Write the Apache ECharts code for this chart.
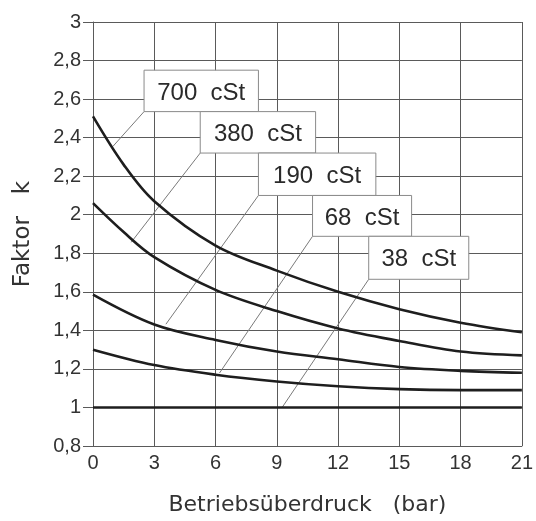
<!DOCTYPE html>
<html>
<head>
<meta charset="utf-8">
<script src="https://cdn.jsdelivr.net/npm/echarts@6/dist/echarts.min.js"></script>
<style>
html,body{margin:0;padding:0;background:#fff;}
#chart{width:536px;height:521px;}
</style>
</head>
<body>
<div id="chart"></div>
<script>
// Data
const xTicksMin = 0, xTicksMax = 21, xStep = 3;
const yMin = 0.8, yMax = 3, yStep = 0.2;

const curve700 = [[0,2.51],[1.5,2.26],[3,2.07],[6,1.84],[9,1.71],[12,1.60],[15,1.51],[18,1.44],[21,1.39]];
const curve380 = [[0,2.06],[1.5,1.91],[3,1.78],[6,1.61],[9,1.50],[12,1.41],[15,1.345],[18,1.29],[21,1.27]];
const curve190 = [[0,1.585],[3,1.43],[6,1.35],[9,1.29],[12,1.25],[15,1.21],[18,1.19],[21,1.18]];
const curve68  = [[0,1.30],[3,1.22],[6,1.17],[9,1.135],[12,1.11],[15,1.095],[18,1.09],[21,1.09]];
const curve38  = [[0,1.0],[21,1.0]];

// Label boxes (data coordinates) and leader-line targets on the curves
const labelNames = ['700 cSt','380 cSt','190 cSt','68 cSt','38 cSt'];
const boxLeft   = [2.5, 5.25, 8.1, 10.75, 13.5];
const boxRight  = [8.1, 10.9, 13.85, 15.6, 18.4];
const boxTop    = [2.75, 2.535, 2.32, 2.10, 1.888];
const boxBottom = [2.535, 2.32, 2.10, 1.888, 1.665];
const leaderX   = [0.97, 1.87, 3.57, 6.19, 9.26];
const leaderY   = [2.354, 1.857, 1.432, 1.178, 1.0];

const labelData = labelNames.map((n,i)=>[boxLeft[i], boxTop[i], boxRight[i], boxBottom[i], leaderX[i], leaderY[i], n]);

const chart = echarts.init(document.getElementById('chart'), null, {renderer:'canvas'});
const gridColor = '#5a5a5a';
const curveStyle = {color:'#1e1e1e', width:2.6};

function curveSeries(name, data){
  return {name, type:'line', data, smooth:0.35, symbol:'none', lineStyle:curveStyle, z:5, animation:false};
}

chart.setOption({
  backgroundColor:'#ffffff',
  animation:false,
  grid:{left:93, right:9, top:22, bottom:74, containLabel:false},
  xAxis:{
    type:'value', min:xTicksMin, max:xTicksMax, interval:xStep,
    name:'Betriebsüberdruck   (bar)', nameLocation:'middle', nameGap:48,
    nameTextStyle:{fontFamily:'DejaVu Sans', fontSize:22, color:'#333'},
    axisLine:{show:true, lineStyle:{color:gridColor, width:1}},
    axisTick:{show:false},
    axisLabel:{fontFamily:'Liberation Sans', fontSize:20, color:'#333', margin:7},
    splitLine:{show:true, lineStyle:{color:gridColor, width:1}}
  },
  yAxis:{
    type:'value', min:yMin, max:yMax, interval:yStep,
    name:'Faktor   k', nameLocation:'middle', nameGap:58, nameRotate:90,
    nameTextStyle:{fontFamily:'DejaVu Sans', fontSize:23, color:'#333', padding:[0,0,0,0]},
    axisLine:{show:true, lineStyle:{color:gridColor, width:1}},
    axisTick:{show:true, inside:false, length:10, lineStyle:{color:gridColor}},
    axisLabel:{fontFamily:'Liberation Sans', fontSize:20, color:'#333', margin:12,
      formatter:v=>String(Number(v.toFixed(1))).replace('.',',')},
    splitLine:{show:true, lineStyle:{color:gridColor, width:1}}
  },
  series:[
    {
      type:'custom', data:labelData, z:3, animation:false,
      renderItem:function(params, api){
        const p0 = api.coord([api.value(0), api.value(1)]);
        const p1 = api.coord([api.value(2), api.value(3)]);
        const pl = api.coord([api.value(4), api.value(5)]);
        const name = labelNames[params.dataIndex];
        return {type:'group', children:[
          {type:'line', shape:{x1:p0[0], y1:p1[1], x2:pl[0], y2:pl[1]}, style:{stroke:'#7a7a7a', lineWidth:1}},
          {type:'rect', shape:{x:p0[0], y:p0[1], width:p1[0]-p0[0], height:p1[1]-p0[1]},
           style:{fill:'#ffffff', stroke:'#8a8a8a', lineWidth:1}},
          {type:'text', x:(p0[0]+p1[0])/2, y:(p0[1]+p1[1])/2+2,
           style:{text:name.replace(' ','  '), fill:'#2a2a2a', fontFamily:'Liberation Sans', fontSize:24,
                  align:'center', verticalAlign:'middle'}}
        ]};
      }
    },
    curveSeries('700 cSt', curve700),
    curveSeries('380 cSt', curve380),
    curveSeries('190 cSt', curve190),
    curveSeries('68 cSt', curve68),
    curveSeries('38 cSt', curve38)
  ]
});
</script>
</body>
</html>
